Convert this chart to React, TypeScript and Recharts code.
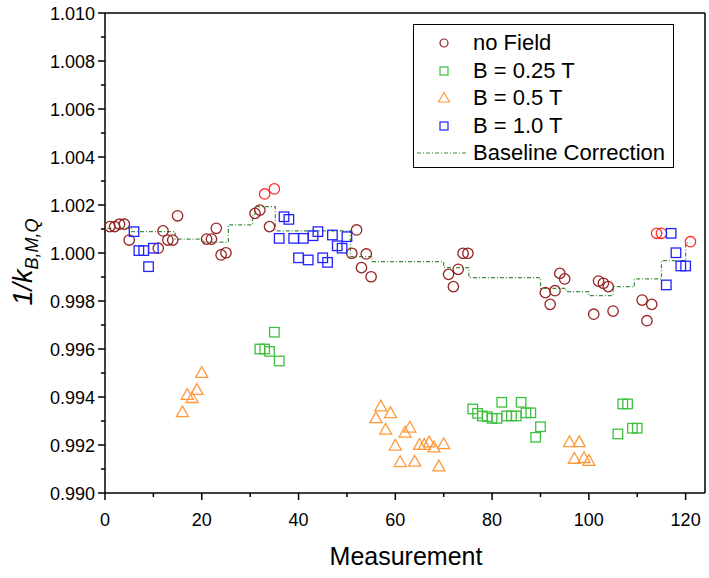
import { ScatterChart, Scatter, XAxis, YAxis } from 'recharts'

const noFieldX = [1, 2, 3, 4, 5, 11, 12, 13, 14, 15, 21, 22, 23, 24, 25, 31, 32, 34, 51, 52, 53, 54, 55, 71, 72, 73, 74, 75, 91, 92, 93, 94, 95, 101, 102, 103, 104, 105, 111, 112, 113]
const noFieldY = [1.0011, 1.0011, 1.0012, 1.0012, 1.00054, 1.0002, 1.00092, 1.00054, 1.00054, 1.00155, 1.00058, 1.00058, 1.00103, 0.99992, 1.00001, 1.00165, 1.00179, 1.0011, 0.99999, 1.00096, 0.99939, 0.99996, 0.99901, 0.99911, 0.9986, 0.99932, 0.99999, 0.99999, 0.99835, 0.99786, 0.99843, 0.99915, 0.99892, 0.99745, 0.99883, 0.99874, 0.9986, 0.99758, 0.99804, 0.99718, 0.99786]
const noFieldHotX = [33, 35, 114, 115, 121]
const noFieldHotY = [1.00246, 1.00267, 1.00082, 1.00082, 1.00047]
const b025X = [32, 33, 34, 35, 36, 76, 77, 78, 79, 80, 81, 82, 83, 84, 85, 86, 87, 88, 89, 90, 106, 107, 108, 109, 110]
const b025Y = [0.996, 0.996, 0.9959, 0.9967, 0.9955, 0.9935, 0.99332, 0.99321, 0.99318, 0.99311, 0.99311, 0.99378, 0.99321, 0.99321, 0.99321, 0.99378, 0.99334, 0.99334, 0.99232, 0.99276, 0.99246, 0.99371, 0.99371, 0.9927, 0.9927]
const b05X = [16, 17, 18, 19, 20, 56, 57, 58, 59, 60, 61, 62, 63, 64, 65, 66, 67, 68, 69, 70, 96, 97, 98, 99, 100]
const b05Y = [0.99336, 0.99408, 0.99395, 0.99429, 0.995, 0.99311, 0.9936, 0.99263, 0.99332, 0.99197, 0.99128, 0.99251, 0.99272, 0.9913, 0.992, 0.992, 0.9921, 0.99189, 0.9911, 0.99203, 0.99211, 0.99142, 0.99211, 0.99145, 0.99133]
const b10X = [6, 7, 8, 9, 10, 36, 37, 38, 39, 40, 41, 42, 43, 44, 45, 46, 47, 48, 49, 50, 116, 117, 118, 119, 120]
const b10Y = [1.00089, 1.0001, 1.0001, 0.99943, 1.0002, 1.00061, 1.00151, 1.0014, 1.00061, 0.9998, 1.00061, 0.99971, 1.00072, 1.00089, 0.9998, 0.99961, 1.00075, 1.0003, 1.0002, 1.00068, 0.99867, 1.00082, 1.00001, 0.99946, 0.99946]
const baseX = [0.5, 5.5, 5.5, 14.5, 14.5, 20.3, 20.3, 25.5, 25.5, 30.5, 30.5, 31, 31, 35.2, 35.2, 50.7, 50.7, 55.2, 55.2, 70, 70, 75.2, 75.2, 90, 90, 95.3, 95.3, 100, 100, 105, 105, 109.4, 109.4, 115, 115, 120, 120, 121]
const baseY = [1.00103, 1.00103, 1.00089, 1.00089, 1.00058, 1.00058, 1.00045, 1.00045, 1.00117, 1.00117, 1.00158, 1.00158, 1.00193, 1.00193, 1.00092, 1.00092, 0.99985, 0.99985, 0.99964, 0.99964, 0.99939, 0.99939, 0.99897, 0.99897, 0.99853, 0.99853, 0.99839, 0.99839, 0.99822, 0.99822, 0.9986, 0.9986, 0.99892, 0.99892, 0.99968, 0.99968, 1.00042, 1.00042]

const xTicks = [0, 10, 20, 30, 40, 50, 60, 70, 80, 90, 100, 110, 120]
const yTicks = [0.99, 0.991, 0.992, 0.993, 0.994, 0.995, 0.996, 0.997, 0.998, 0.999, 1.0, 1.001, 1.002, 1.003, 1.004, 1.005, 1.006, 1.007, 1.008, 1.009, 1.01]

const legendNames = ['no Field', 'B = 0.25 T', 'B = 0.5 T', 'B = 1.0 T', 'Baseline Correction']

const FONT = '"Liberation Sans", Arial, sans-serif'
const C_DARK = '#962222'
const C_HOT = '#ff2a2a'
const C_GREEN = '#3fbf3f'
const C_ORANGE = '#ff9a3c'
const C_BLUE = '#2222ff'
const C_BASE = '#3f8f3f'

const zip = (xs: number[], ys: number[]) => xs.map((x, i) => ({ x, y: ys[i] }))

const circle = (color: string, r = 5.2) => (p: any) =>
  <circle cx={p.cx} cy={p.cy} r={r} fill="none" stroke={color} strokeWidth={1.3} />
const square = (color: string, s = 9.5) => (p: any) =>
  <rect x={p.cx - s / 2} y={p.cy - s / 2} width={s} height={s} fill="none" stroke={color} strokeWidth={1.3} />
const triangle = (color: string, w = 12) => (p: any) => {
  const h = w * 0.9
  return <polygon points={`${p.cx},${p.cy - h * 0.6} ${p.cx + w / 2},${p.cy + h * 0.4} ${p.cx - w / 2},${p.cy + h * 0.4}`}
    fill="none" stroke={color} strokeWidth={1.3} />
}

const isMajorX = (v: number) => v % 20 === 0
const isMajorY = (v: number) => Math.round(v * 1000) % 2 === 0

function BottomTick({ x, y, payload }: any) {
  const major = isMajorX(payload.value)
  return (
    <g>
      <line x1={x} x2={x} y1={y} y2={y + (major ? 7 : 4)} stroke="#000" strokeWidth={1.5} />
      {major && <text x={x} y={y + 33} textAnchor="middle" fontSize={18} fontFamily={FONT} fill="#000">{payload.value}</text>}
    </g>
  )
}
function TopTick({ x, y, payload }: any) {
  const major = isMajorX(payload.value)
  return <line x1={x} x2={x} y1={y} y2={y + (major ? 7 : 4)} stroke="#000" strokeWidth={1.5} />
}
function LeftTick({ x, y, payload }: any) {
  const major = isMajorY(payload.value)
  return (
    <g>
      <line x1={x} x2={x - (major ? 7 : 4)} y1={y} y2={y} stroke="#000" strokeWidth={1.5} />
      {major && <text x={x - 10} y={y + 6.5} textAnchor="end" fontSize={18} fontFamily={FONT} fill="#000">{payload.value.toFixed(3)}</text>}
    </g>
  )
}
function RightTick({ x, y, payload }: any) {
  const major = isMajorY(payload.value)
  return <line x1={x} x2={x - (major ? 7 : 4)} y1={y} y2={y} stroke="#000" strokeWidth={1.5} />
}

function LegendBox() {
  const icons = [
    <circle cx={10} cy={10} r={4} fill="none" stroke={C_DARK} strokeWidth={1.2} />,
    <rect x={6} y={6} width={8} height={8} fill="none" stroke={C_GREEN} strokeWidth={1.2} />,
    <polygon points="10,4.5 15.5,14 4.5,14" fill="none" stroke={C_ORANGE} strokeWidth={1.2} />,
    <rect x={6} y={6} width={8} height={8} fill="none" stroke={C_BLUE} strokeWidth={1.2} />,
  ]
  return (
    <div style={{
      position: 'absolute', left: 413, top: 24, width: 261, height: 144, boxSizing: 'border-box',
      border: '1px solid #000', background: '#fff', fontFamily: FONT, fontSize: 22, color: '#000'
    }}>
      {legendNames.map((name, i) => (
        <div key={name} style={{ position: 'absolute', left: 0, top: 4 + i * 27.6, height: 28, width: 259 }}>
          <svg width={56} height={28} style={{ position: 'absolute', left: 0, top: 0 }}>
            {i < 4
              ? <g transform="translate(20,4)">{icons[i]}</g>
              : <line x1={3} x2={52} y1={14} y2={14} stroke={C_BASE} strokeWidth={1.2} strokeDasharray="4 2 1 2" />}
          </svg>
          <span style={{ position: 'absolute', left: 59, top: 0, lineHeight: '28px', whiteSpace: 'nowrap' }}>{name}</span>
        </div>
      ))}
    </div>
  )
}

export default function App() {
  return (
    <div style={{ position: 'absolute', left: 0, top: 0, width: 709, height: 578, background: '#fff' }}>
      <ScatterChart width={709} height={578} margin={{ top: 12, right: 3, bottom: 5, left: 5 }}>
        <XAxis dataKey="x" type="number" domain={[0, 124]} ticks={xTicks} interval={0} height={80}
          tickSize={0} tickMargin={0} tick={BottomTick} tickLine={false}
          axisLine={{ stroke: '#000', strokeWidth: 1.5 }} />
        <XAxis xAxisId="top" orientation="top" type="number" domain={[0, 124]} ticks={xTicks} interval={0} height={1}
          tickSize={0} tickMargin={0} tick={TopTick} tickLine={false}
          axisLine={{ stroke: '#000', strokeWidth: 1.5 }} />
        <YAxis dataKey="y" type="number" domain={[0.99, 1.01]} ticks={yTicks} interval={0} width={100}
          tickSize={0} tickMargin={0} tick={LeftTick} tickLine={false}
          axisLine={{ stroke: '#000', strokeWidth: 1.5 }} />
        <YAxis yAxisId="right" orientation="right" type="number" domain={[0.99, 1.01]} ticks={yTicks} interval={0} width={1}
          tickSize={0} tickMargin={0} tick={RightTick} tickLine={false}
          axisLine={{ stroke: '#000', strokeWidth: 1.5 }} />
        <Scatter data={zip(baseX, baseY)} line={{ stroke: C_BASE, strokeWidth: 1.2, strokeDasharray: '4 2 1 2' }}
          lineType="joint" shape={() => <g />} isAnimationActive={false} />
        <Scatter data={zip(noFieldX, noFieldY)} shape={circle(C_DARK)} isAnimationActive={false} />
        <Scatter data={zip(noFieldHotX, noFieldHotY)} shape={circle(C_HOT)} isAnimationActive={false} />
        <Scatter data={zip(b025X, b025Y)} shape={square(C_GREEN)} isAnimationActive={false} />
        <Scatter data={zip(b05X, b05Y)} shape={triangle(C_ORANGE)} isAnimationActive={false} />
        <Scatter data={zip(b10X, b10Y)} shape={square(C_BLUE)} isAnimationActive={false} />
      </ScatterChart>

      <svg width={709} height={578} style={{ position: 'absolute', left: 0, top: 0, pointerEvents: 'none' }}>
        <text x={406} y={565} textAnchor="middle" fontSize={25} fontFamily={FONT} fill="#000">Measurement</text>
        <text transform="translate(32,262) rotate(-90)" textAnchor="middle" fontFamily={FONT} fill="#000" fontSize={27}>
          <tspan fontStyle="italic">1/k</tspan>
          <tspan fontStyle="italic" fontSize={18} dy={6}>B,M,Q</tspan>
        </text>
      </svg>

      <LegendBox />
    </div>
  )
}
